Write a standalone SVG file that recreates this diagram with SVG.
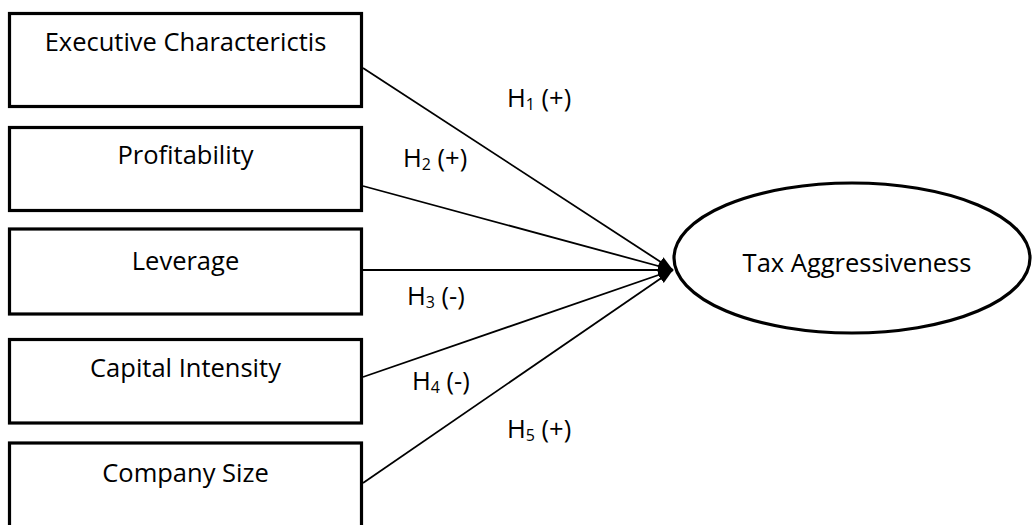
<svg xmlns="http://www.w3.org/2000/svg" width="1032" height="525" viewBox="0 0 1032 525">
  <style>
    .box { fill: #ffffff; stroke: #000000; stroke-width: 3.2; }
    .ell { fill: #ffffff; stroke: #000000; stroke-width: 3.2; }
    .lbl { font-family: "Open Sans", "Noto Sans", sans-serif; font-size: 25.5px; fill: #000000; }
    .mid { text-anchor: middle; }
    .sub { font-size: 16px; }
    .conn { stroke: #000000; stroke-width: 1.8; fill: none; marker-end: url(#arrow); }
  </style>
  <defs>
    <marker id="arrow" markerUnits="userSpaceOnUse" markerWidth="17" markerHeight="13" refX="15" refY="6.5" orient="auto">
      <path d="M0,1 L15,6.5 L0,12 Z" fill="#000000"/>
    </marker>
  </defs>
  <rect width="1032" height="525" fill="#ffffff"/>

  <g id="connectors">
    <line class="conn" x1="363" y1="68" x2="673" y2="270"/>
    <line class="conn" x1="363" y1="186" x2="673" y2="270"/>
    <line class="conn" x1="363" y1="270" x2="673" y2="270"/>
    <line class="conn" x1="363" y1="377" x2="673" y2="270"/>
    <line class="conn" x1="363" y1="483" x2="673" y2="270"/>
  </g>

  <g id="node-executive">
    <rect class="box" x="9.5" y="13.5" width="352" height="93"/>
    <text class="lbl mid" x="185.5" y="51">Executive Characterictis</text>
  </g>
  <g id="node-profitability">
    <rect class="box" x="9.5" y="127.5" width="352" height="83"/>
    <text class="lbl mid" x="185.5" y="164">Profitability</text>
  </g>
  <g id="node-leverage">
    <rect class="box" x="9.5" y="229" width="352" height="85"/>
    <text class="lbl mid" x="185.5" y="270">Leverage</text>
  </g>
  <g id="node-capital">
    <rect class="box" x="9.5" y="339.5" width="352" height="83.5"/>
    <text class="lbl mid" x="185.5" y="377">Capital Intensity</text>
  </g>
  <g id="node-size">
    <rect class="box" x="9.5" y="443" width="352" height="95"/>
    <text class="lbl mid" x="185.5" y="482">Company Size</text>
  </g>
  <g id="node-tax">
    <ellipse class="ell" cx="852" cy="258" rx="178" ry="75"/>
    <text class="lbl mid" x="857" y="272">Tax Aggressiveness</text>
  </g>

  <g id="labels">
    <text class="lbl" x="507" y="107">H<tspan class="sub" dy="3">1</tspan><tspan dy="-3"> (+)</tspan></text>
    <text class="lbl" x="403" y="167">H<tspan class="sub" dy="3">2</tspan><tspan dy="-3"> (+)</tspan></text>
    <text class="lbl" x="407" y="305">H<tspan class="sub" dy="3">3</tspan><tspan dy="-3"> (-)</tspan></text>
    <text class="lbl" x="412" y="390">H<tspan class="sub" dy="3">4</tspan><tspan dy="-3"> (-)</tspan></text>
    <text class="lbl" x="507" y="438">H<tspan class="sub" dy="3">5</tspan><tspan dy="-3"> (+)</tspan></text>
  </g>
</svg>
